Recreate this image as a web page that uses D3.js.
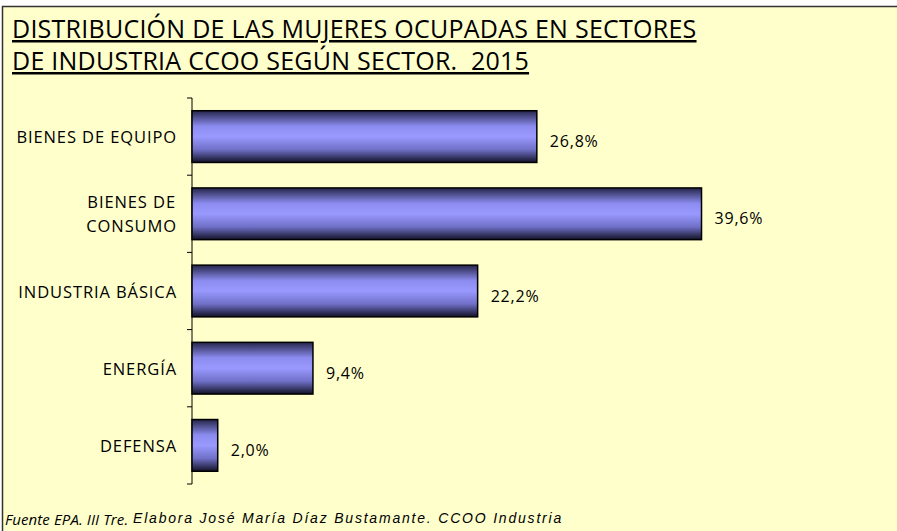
<!DOCTYPE html>
<html>
<head>
<meta charset="utf-8">
<script src="https://cdn.jsdelivr.net/npm/d3@7"></script>
<style>
  body { margin: 0; background: #fff; }
  svg { display: block; }
  text { white-space: pre; }
</style>
</head>
<body>
<div id="chart"></div>
<script>
// Sectores y porcentajes de mujeres ocupadas
var sectors = ["BIENES DE EQUIPO", "BIENES DE\nCONSUMO", "INDUSTRIA BÁSICA", "ENERGÍA", "DEFENSA"];
var shares = [26.8, 39.6, 22.2, 9.4, 2.0];
var titleLines = ["DISTRIBUCIÓN DE LAS MUJERES OCUPADAS EN SECTORES",
                  "DE INDUSTRIA CCOO SEGÚN SECTOR.  2015"];

var width = 897, height = 531;

var svg = d3.select("#chart").append("svg")
    .attr("width", width)
    .attr("height", height);

// Gradient for the bars
var grad = svg.append("defs").append("linearGradient")
    .attr("id", "barGrad")
    .attr("x1", 0).attr("y1", 0).attr("x2", 0).attr("y2", 1);
grad.append("stop").attr("offset", "0%").attr("stop-color", "#25254a");
grad.append("stop").attr("offset", "30%").attr("stop-color", "#8c8cf0");
grad.append("stop").attr("offset", "50%").attr("stop-color", "#9999ff");
grad.append("stop").attr("offset", "75%").attr("stop-color", "#7070c8");
grad.append("stop").attr("offset", "100%").attr("stop-color", "#121226");

// Background panel
svg.append("rect")
    .attr("x", 2.5).attr("y", 6.5)
    .attr("width", width + 10).attr("height", height + 10)
    .style("fill", "#ffffcc")
    .style("stroke", "#333")
    .style("stroke-width", 1.5);

// Title
titleLines.forEach(function(line, i) {
    svg.append("text")
        .attr("x", 12)
        .attr("y", 38 + i * 32)
        .style("font-family", "'Open Sans', sans-serif")
        .style("font-size", "25px")
        .style("letter-spacing", "0.25px")
        .style("text-decoration", "underline")
        .style("fill", "#000")
        .text(line);
});

// Scales
var x = d3.scaleLinear()
    .domain([0, 45])
    .range([192, 192 + 579]);

var y = d3.scaleBand()
    .domain(sectors)
    .range([98, 484])
    .paddingInner(0.33)
    .paddingOuter(0.165);

// Axis line and ticks between categories
svg.append("line")
    .attr("x1", x(0)).attr("x2", x(0))
    .attr("y1", y.range()[0]).attr("y2", y.range()[1])
    .style("stroke", "#000").style("stroke-width", 1);

d3.range(sectors.length + 1).forEach(function(i) {
    var ty = y.range()[0] + i * y.step();
    svg.append("line")
        .attr("x1", x(0) - 5).attr("x2", x(0))
        .attr("y1", ty).attr("y2", ty)
        .style("stroke", "#000").style("stroke-width", 1);
});

// Bars
svg.selectAll("rect.bar")
    .data(sectors)
    .enter().append("rect")
    .attr("class", "bar")
    .attr("x", x(0))
    .attr("y", function(d) { return y(d); })
    .attr("width", function(d, i) { return x(shares[i]) - x(0); })
    .attr("height", y.bandwidth())
    .style("fill", "url(#barGrad)")
    .style("stroke", "#000")
    .style("stroke-width", 1.5);

// Value labels
svg.selectAll("text.value")
    .data(sectors)
    .enter().append("text")
    .attr("class", "value")
    .attr("x", function(d, i) { return x(shares[i]) + 13; })
    .attr("y", function(d) { return y(d) + y.bandwidth() / 2 + 10.5; })
    .style("font-family", "'Open Sans', sans-serif")
    .style("font-size", "16px")
    .style("letter-spacing", "0.8px")
    .style("fill", "#000")
    .text(function(d, i) { return shares[i].toFixed(1).replace(".", ",") + "%"; });

// Category labels (wrapped lines centred on each other, right aligned block)
sectors.forEach(function(s) {
    var lines = s.split("\n");
    var cy = y(s) + y.bandwidth() / 2;
    var g = svg.append("text")
        .style("font-family", "'Open Sans', sans-serif")
        .style("font-size", "16.5px")
        .style("letter-spacing", "0.9px")
        .style("fill", "#000");
    lines.forEach(function(l, j) {
        g.append("tspan")
            .attr("y", cy + 6.5 + (j - (lines.length - 1) / 2) * 24)
            .text(l);
    });
    var tsp = g.selectAll("tspan").nodes();
    var maxW = d3.max(tsp, function(n) { return n.getComputedTextLength(); });
    tsp.forEach(function(n) {
        n.setAttribute("x", 177 - maxW / 2);
        n.setAttribute("text-anchor", "middle");
    });
});

// Footer
svg.append("text")
    .attr("x", 5).attr("y", 525)
    .style("font-family", "'Open Sans', sans-serif")
    .style("font-size", "15px")
    .style("letter-spacing", "0.1px")
    .style("font-style", "italic")
    .text("Fuente EPA. III Tre.");

svg.append("text")
    .attr("x", 133).attr("y", 523)
    .style("font-family", "'Liberation Sans', Arial, sans-serif")
    .style("font-size", "14px")
    .style("letter-spacing", "1.8px")
    .style("font-style", "italic")
    .text("Elabora José María Díaz Bustamante. CCOO Industria");
</script>
</body>
</html>
